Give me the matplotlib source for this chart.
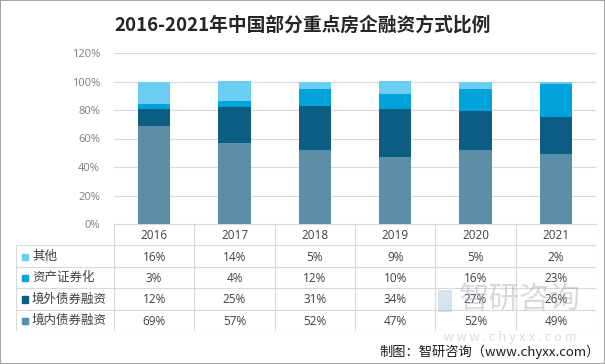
import matplotlib.pyplot as plt
from matplotlib.patches import Rectangle

plt.rcParams['font.family'] = ['Noto Sans CJK SC', 'DejaVu Sans']

# data
years = ['2016', '2017', '2018', '2019', '2020', '2021']
series_names = ['其他', '资产证券化', '境外债券融资', '境内债券融资']
other = [16, 14, 5, 9, 5, 2]
abs_sec = [3, 4, 12, 10, 16, 23]
overseas = [12, 25, 31, 34, 27, 26]
domestic = [69, 57, 52, 47, 52, 49]
yticks = [0, 20, 40, 60, 80, 100, 120]

colors = {'其他': '#6ccdf2', '资产证券化': '#00a3da',
          '境外债券融资': '#0b5e82', '境内债券融资': '#5b8fa8'}
values = {'其他': other, '资产证券化': abs_sec,
          '境外债券融资': overseas, '境内债券融资': domestic}

num_font = ['Open Sans', 'DejaVu Sans']

W, H = 605, 364
fig = plt.figure(figsize=(W / 100, H / 100), dpi=100)

# main plot area
ax_l, ax_r, ax_t, ax_b = 114, 596, 53, 224
ax = fig.add_axes([ax_l / W, 1 - ax_b / H, (ax_r - ax_l) / W, (ax_b - ax_t) / H])
x = list(range(len(years)))
bottom = [0] * len(years)
for name in ['境内债券融资', '境外债券融资', '资产证券化', '其他']:
    vals = values[name]
    ax.bar(x, vals, width=0.4, bottom=bottom, color=colors[name], zorder=3)
    bottom = [b + v for b, v in zip(bottom, vals)]

ax.set_xlim(-0.5, len(years) - 0.5)
ax.set_ylim(0, 120)
ax.set_yticks(yticks)
ax.set_yticklabels([f'{t}%' for t in yticks], color='#7f7f7f', fontsize=8, family=num_font)
ax.set_xticks([])
ax.grid(axis='y', color='#d9d9d9', linewidth=0.8, zorder=0)
ax.tick_params(axis='y', length=0, pad=10)
for s in ['left', 'right', 'top']:
    ax.spines[s].set_visible(False)
ax.spines['bottom'].set_color('#d9d9d9')

# data table
tb_l, tb_r, tb_t, tb_b = 16, 596, 224, 331
col_w = (ax_r - ax_l) / len(years)
lab_cols = (ax_l - tb_l) / col_w
tax = fig.add_axes([tb_l / W, 1 - tb_b / H, (tb_r - tb_l) / W, (tb_b - tb_t) / H])
tax.set_xlim(-0.5 - lab_cols, len(years) - 0.5)
tax.set_ylim(5, 0)
tax.axis('off')
line_c = '#d9d9d9'
for i in range(len(years) + 1):
    tax.plot([i - 0.5, i - 0.5], [0, 5], color=line_c, lw=0.8)
tax.plot([-0.5 - lab_cols] * 2, [1, 5], color=line_c, lw=0.8)
for r in range(1, 6):
    tax.plot([-0.5 - lab_cols, len(years) - 0.5], [r, r], color=line_c, lw=0.8)
for i, yr in enumerate(years):
    tax.text(i, 0.55, yr, ha='center', va='center', fontsize=8.5, color='#404040',
             family=num_font)
for r, name in enumerate(series_names, start=1):
    tax.add_patch(Rectangle((-0.5 - lab_cols + 0.07, r + 0.38), 0.085, 0.3,
                            color=colors[name], clip_on=False))
    tax.text(-0.5 - lab_cols + 0.2, r + 0.5, name, ha='left', va='center',
             fontsize=9, color='#404040')
    for i, v in enumerate(values[name]):
        tax.text(i, r + 0.55, f'{v}%', ha='center', va='center', fontsize=8.5,
                 color='#404040', family=num_font)

# title
fig.text(0.5, 1 - 25 / H, '2016-2021年中国部分重点房企融资方式比例', ha='center', va='center',
         fontsize=13.5, fontweight='bold', color='#262626')

# watermark
fig.add_artist(Rectangle((438 / W, 1 - 312 / H), 14 / W, 22 / H, transform=fig.transFigure,
                         color='#8fb0cc', alpha=0.35, lw=0))
fig.text(520 / W, 1 - 299 / H, '智研咨询', ha='center', va='center', fontsize=22,
         color='#9aa4ae', alpha=0.4)
fig.text(510 / W, 1 - 338 / H, 'w w w . c h y x x . c o m', ha='center', va='center',
         fontsize=9, color='#9aa4ae', alpha=0.4, family=num_font)

# footer
fig.text(600 / W, 1 - 352 / H, '制图：智研咨询（www.chyxx.com）', ha='right', va='center',
         fontsize=9.5, color='#1a1a1a')

fig.patches.append(Rectangle((0, 0), 1, 1, transform=fig.transFigure, fill=False,
                             edgecolor='#a6a6a6', linewidth=1.5))

fig.savefig('out.png', dpi=100)
